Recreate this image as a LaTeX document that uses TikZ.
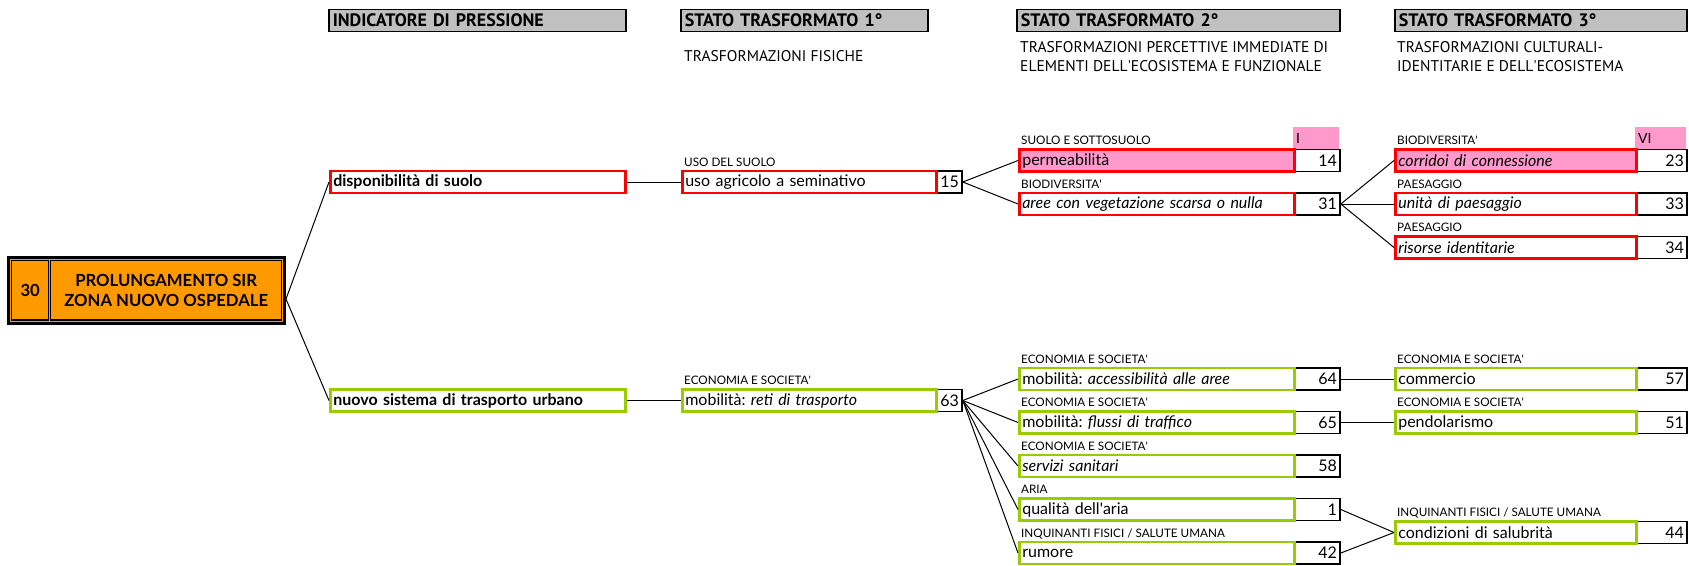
\documentclass[tikz,border=0pt]{standalone}
\usepackage{fontspec}
\setmainfont{Lato}
\newfontfamily\hdrfont{PT Sans}
\definecolor{redline}{HTML}{FF0000}
\definecolor{greenline}{HTML}{99CC00}
\definecolor{orangefill}{HTML}{FF9900}
\definecolor{pinkfill}{HTML}{FF99CC}
\definecolor{greyfill}{HTML}{C0C0C0}
\newcommand{\ap}{\textquotesingle}

\begin{document}
\frenchspacing
\fontsize{16}{18}\selectfont
\begin{tikzpicture}[x=1pt,y=-1pt,
		hdr/.style={draw, fill=greyfill, line width=1.5, text width=#1, minimum height=22, inner xsep=4, inner ysep=0, anchor=west, align=left, font=\hdrfont\bfseries\fontsize{18}{20}\selectfont},
		subt/.style={anchor=west, inner sep=0, align=left, font=\hdrfont\fontsize{15.5}{19}\selectfont},
		tbox/.style 2 args={draw=#1, line width=2.6, text width=#2, minimum height=22, inner xsep=3, inner ysep=0, anchor=west, align=left},
		nbox/.style={draw=black, line width=1.8, fill=white, text width=#1, minimum height=22, inner xsep=3, inner ysep=0, anchor=west, align=right},
		pinkhd/.style={fill=pinkfill, text width=#1, minimum height=22, inner xsep=3, inner ysep=0, anchor=west, align=left, font=\fontsize{14}{16}\selectfont},
		lbl/.style={anchor=base west, inner sep=0, font=\fontsize{11.7}{13}\selectfont},
		obox/.style={draw=black, line width=2.7, fill=orangefill, inner sep=0},
		ocell/.style={draw=black, line width=1.3, inner sep=0, align=center, font=\bfseries\fontsize{16.7}{20}\selectfont},
		conn/.style={draw=black, line width=1}]
	\useasboundingbox (0,0) rectangle (1689,565);
	
	% column headers
	\node[hdr=289] (hd0) at (328,20.5) {INDICATORE DI PRESSIONE};
	\node[hdr=239] (hd1) at (680,20.5) {STATO TRASFORMATO 1°};
	\node[hdr=315] (hd2) at (1016,20.5) {STATO TRASFORMATO 2°};
	\node[hdr=284] (hd3) at (1394,20.5) {STATO TRASFORMATO 3°};
	\node[subt] (sub1) at (684,56) {TRASFORMAZIONI FISICHE};
	\node[subt] (sub2) at (1020,56.5) {TRASFORMAZIONI PERCETTIVE IMMEDIATE DI\\ELEMENTI DELL\ap ECOSISTEMA E FUNZIONALE};
	\node[subt] (sub3) at (1397,56.5) {TRASFORMAZIONI CULTURALI-\\IDENTITARIE E DELL\ap ECOSISTEMA};
	
	% azione
	\node[obox, minimum width=276, minimum height=66] (azione) at (146.7,290.3) {};
	\node[ocell, minimum width=37.1, minimum height=59.3] (azn) at (30.25,290.35) {30};
	\node[ocell, minimum width=231, minimum height=59.3] (azt) at (166.2,290.35) {PROLUNGAMENTO SIR\\ZONA NUOVO OSPEDALE};
	\coordinate (fork) at (286,299);
	
	% indicatori di pressione
	\node[tbox={redline}{289}, font=\bfseries] (ind1) at (329,182) {disponibilità di suolo};
	\node[tbox={greenline}{289}, font=\bfseries] (ind2) at (329,400.5) {nuovo sistema di trasporto urbano};
	
	% stato 1
	\node[nbox=20] (n15) at (935,182) {15};
	\node[tbox={redline}{248}] (uso) at (681,182) {uso agricolo a seminativo};
	\node[lbl] (l-uso) at (684,166) {USO DEL SUOLO};
	\node[nbox=20] (n63) at (935,400.5) {63};
	\node[tbox={greenline}{248}] (reti) at (681,400.5) {mobilità: \textit{reti di trasporto}};
	\node[lbl] (l-reti) at (684,384.5) {ECONOMIA E SOCIETA\ap};
	
	% stato 2
	\node[pinkhd=40] (h-i) at (1293,138) {I};
	\node[nbox=40] (n14) at (1293,160.5) {14};
	\node[tbox={redline}{269}, fill=pinkfill] (perm) at (1018,160.5) {permeabilità};
	\node[lbl] (l-perm) at (1021,144.5) {SUOLO E SOTTOSUOLO};
	\node[nbox=40] (n31) at (1293,204) {31};
	\node[tbox={redline}{269}, font=\itshape] (aree) at (1018,204) {aree con vegetazione scarsa o nulla};
	\node[lbl] (l-aree) at (1021,188) {BIODIVERSITA\ap};
	
	\node[nbox=40] (n64) at (1293,379) {64};
	\node[tbox={greenline}{269}] (acc) at (1018,379) {mobilità: \textit{accessibilità alle aree}};
	\node[lbl] (l-acc) at (1021,363) {ECONOMIA E SOCIETA\ap};
	\node[nbox=40] (n65) at (1293,422.5) {65};
	\node[tbox={greenline}{269}] (flussi) at (1018,422.5) {mobilità: \textit{flussi di traffico}};
	\node[lbl] (l-flussi) at (1021,406.5) {ECONOMIA E SOCIETA\ap};
	\node[nbox=40] (n58) at (1293,466) {58};
	\node[tbox={greenline}{269}, font=\itshape] (serv) at (1018,466) {servizi sanitari};
	\node[lbl] (l-serv) at (1021,450) {ECONOMIA E SOCIETA\ap};
	\node[nbox=40] (n1) at (1293,509.5) {1};
	\node[tbox={greenline}{269}] (aria) at (1018,509.5) {qualità dell\ap aria};
	\node[lbl] (l-aria) at (1021,493.5) {ARIA};
	\node[nbox=40] (n42) at (1293,553) {42};
	\node[tbox={greenline}{269}] (rumore) at (1018,553) {rumore};
	\node[lbl] (l-rumore) at (1021,537) {INQUINANTI FISICI / SALUTE UMANA};
	
	% stato 3
	\node[pinkhd=45] (h-vi) at (1635,138) {VI};
	\node[nbox=45] (n23) at (1635,160.5) {23};
	\node[tbox={redline}{235}, fill=pinkfill, font=\itshape] (corr) at (1394,160.5) {corridoi di connessione};
	\node[lbl] (l-corr) at (1397,144.5) {BIODIVERSITA\ap};
	\node[nbox=45] (n33) at (1635,204) {33};
	\node[tbox={redline}{235}, font=\itshape] (unita) at (1394,204) {unità di paesaggio};
	\node[lbl] (l-unita) at (1397,188) {PAESAGGIO};
	\node[nbox=45] (n34) at (1635,247.5) {34};
	\node[tbox={redline}{235}, font=\itshape] (risorse) at (1394,247.5) {risorse identitarie};
	\node[lbl] (l-risorse) at (1397,231.5) {PAESAGGIO};
	
	\node[nbox=45] (n57) at (1635,379) {57};
	\node[tbox={greenline}{235}] (comm) at (1394,379) {commercio};
	\node[lbl] (l-comm) at (1397,363) {ECONOMIA E SOCIETA\ap};
	\node[nbox=45] (n51) at (1635,422.5) {51};
	\node[tbox={greenline}{235}] (pend) at (1394,422.5) {pendolarismo};
	\node[lbl] (l-pend) at (1397,406.5) {ECONOMIA E SOCIETA\ap};
	\node[nbox=45] (n44) at (1635,532.5) {44};
	\node[tbox={greenline}{235}] (salub) at (1394,532.5) {condizioni di salubrità};
	\node[lbl] (l-salub) at (1397,516.5) {INQUINANTI FISICI / SALUTE UMANA};
	
	% collegamenti
	\draw[conn] (fork) -- (ind1.west);
	\draw[conn] (fork) -- (ind2.west);
	\draw[conn] (ind1.east) -- (uso.west);
	\draw[conn] (ind2.east) -- (reti.west);
	\draw[conn] (n15.east) -- (perm.west);
	\draw[conn] (n15.east) -- (aree.west);
	\draw[conn] (n31.east) -- (corr.west);
	\draw[conn] (n31.east) -- (unita.west);
	\draw[conn] (n31.east) -- (risorse.west);
	\draw[conn] (n63.east) -- (acc.west);
	\draw[conn] (n63.east) -- (flussi.west);
	\draw[conn] (n63.east) -- (serv.west);
	\draw[conn] (n63.east) -- (aria.west);
	\draw[conn] (n63.east) -- (rumore.west);
	\draw[conn] (n64.east) -- (comm.west);
	\draw[conn] (n65.east) -- (pend.west);
	\draw[conn] (n1.east) -- (salub.west);
	\draw[conn] (n42.east) -- (salub.west);
\end{tikzpicture}
\end{document}
